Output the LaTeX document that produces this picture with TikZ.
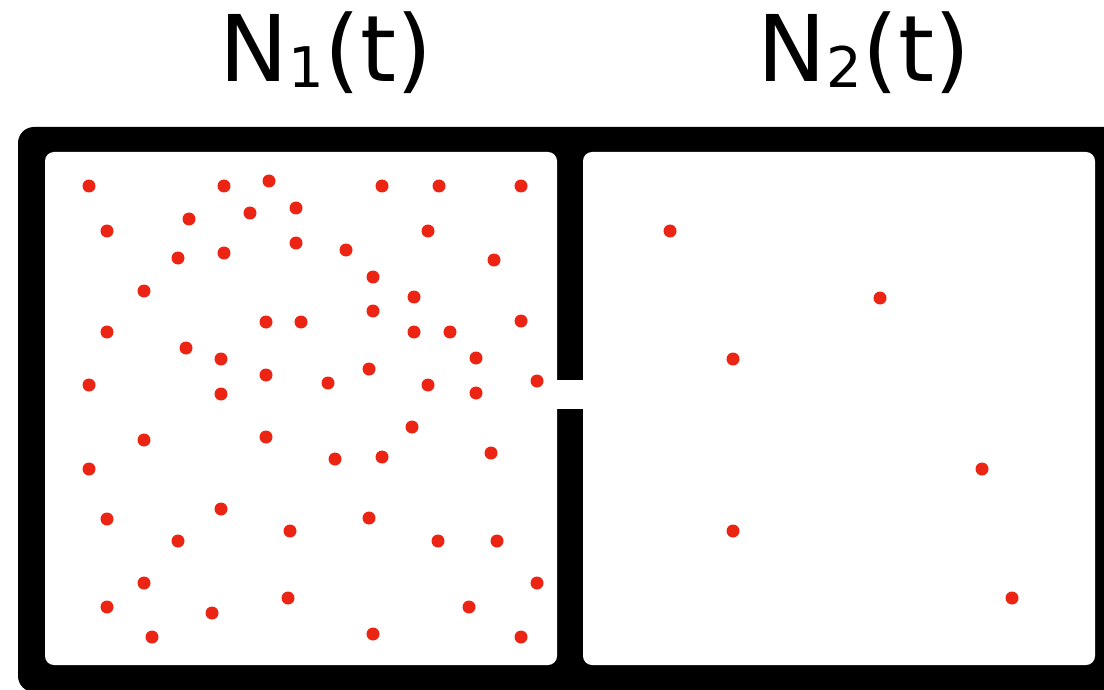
\documentclass[tikz,border=0pt]{standalone}
\usepackage{fontspec}
\setmainfont{DejaVu Sans}
\definecolor{dotred}{RGB}{235,36,20}
\tikzset{
  wallfill/.style={fill=black, rounded corners=16pt},
  room/.style={fill=white, rounded corners=9pt},
  particle/.style={fill=dotred},
  title/.style={anchor=base, inner sep=0pt, font=\fontsize{92}{92}\selectfont}
}
\newcommand{\subone}[1]{\raisebox{-6pt}{\fontsize{56}{56}\selectfont #1}}
\begin{document}
\begin{tikzpicture}[x=1pt,y=-1pt]
\useasboundingbox (0,0) rectangle (1104,690);
% titles
\node[title] (t1) at (326,82) {N\subone{1}(t)};
\node[title] (t2) at (864,82) {N\subone{2}(t)};
% frame
\fill[wallfill] (18,127) rectangle (1122,692);
\fill[room] (45,152) rectangle (557,665);
\fill[room] (583,152) rectangle (1095,665);
\fill[white] (550,380) rectangle (590,409);
% particles left
\foreach \x/\y in {89/186,224/186,269/181,382/186,439/186,521/186,
  189/219,250/213,296/208,107/231,428/231,
  178/258,224/253,296/243,346/250,494/260,
  144/291,373/277,414/297,
  107/332,266/322,301/322,373/311,414/332,450/332,521/321,
  186/348,221/359,476/358,
  89/385,266/375,328/383,369/369,428/385,476/393,537/381,221/394,
  144/440,266/437,412/427,
  89/469,335/459,382/457,491/453,
  107/519,221/509,290/531,369/518,
  178/541,438/541,497/541,
  144/583,537/583,
  107/607,212/613,288/598,469/607,
  152/637,373/634,521/637}
  \fill[particle] (\x,\y) circle[radius=6.5pt];
% particles right
\foreach \x/\y in {670/231,880/298,733/359,982/469,733/531,1012/598}
  \fill[particle] (\x,\y) circle[radius=6.5pt];
\end{tikzpicture}
\end{document}
